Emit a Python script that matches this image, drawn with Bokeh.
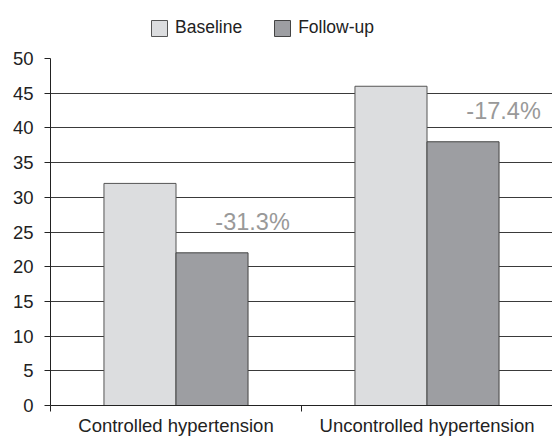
from bokeh.plotting import figure
from bokeh.layouts import column
from bokeh.models import (ColumnDataSource, Range1d, LinearAxis, FixedTicker, Legend, LegendItem)
from bokeh.core.properties import value
from bokeh.embed import file_html
from bokeh.resources import INLINE

categories = ["Controlled hypertension", "Uncontrolled hypertension"]
series_names = ["Baseline", "Follow-up"]
baseline = [32, 46]
follow_up = [22, 38]
change_labels = ["-31.3%", "-17.4%"]
y_ticks = [0, 5, 10, 15, 20, 25, 30, 35, 40, 45, 50]

FONT = "Liberation Sans"
FILLS = ["#dcdddf", "#9d9ea2"]
LINES = ["#555555", "#444444"]
n = len(categories)
centers = [i + 0.5 for i in range(n)]
bw = 0.287

src = ColumnDataSource(dict(
    xb=[c - bw / 2 for c in centers], xf=[c + bw / 2 for c in centers], xl=[c + 0.305 for c in centers],
    baseline=baseline, follow=follow_up,
    lab=change_labels, laby=[f + 4.5 for f in follow_up],
))

# ---- legend strip (separate figure above the chart) ----
LEG_H = 45
lg = figure(width=552, height=LEG_H, x_range=Range1d(0, 1), y_range=Range1d(0, 1),
            output_backend="svg", toolbar_location=None, x_axis_location=None, y_axis_location=None,
            min_border_left=0, min_border_right=0, min_border_top=0, min_border_bottom=0)
lg.outline_line_color = None
lg.grid.grid_line_color = None
# swatch renderers: their single point lies outside the visible range, only the legend shows them
dummies = [lg.vbar(x=[5], top=[5], width=0.1, fill_color=FILLS[i], line_color=LINES[i], line_width=1)
           for i in range(2)]
legend = Legend(items=[LegendItem(label=series_names[i], renderers=[dummies[i]]) for i in range(2)],
                orientation="horizontal", location=(99, 7),
                glyph_width=20, glyph_height=20, label_standoff=6, spacing=30,
                padding=0, margin=0, border_line_color=None, background_fill_alpha=0,
                label_text_font=FONT, label_text_font_size="17.5px", label_text_color="#222222",
                label_height=20)
lg.add_layout(legend, "center")

# ---- main chart ----
p = figure(width=552, height=438 - LEG_H, x_range=Range1d(0, n), y_range=Range1d(0, 50),
           output_backend="svg", toolbar_location=None, x_axis_location=None,
           min_border_left=50, min_border_right=0, min_border_top=13, min_border_bottom=33)
p.outline_line_color = None
p.background_fill_color = "white"
p.xgrid.grid_line_color = None
p.ygrid.grid_line_color = "#3a3a3a"
p.ygrid.grid_line_width = 1
p.ygrid.ticker = FixedTicker(ticks=y_ticks)

ya = p.yaxis[0]
ya.ticker = FixedTicker(ticks=y_ticks)
ya.minor_tick_line_color = None
ya.major_tick_in = 0
ya.major_tick_out = 6
ya.axis_line_color = "#222222"
ya.major_tick_line_color = "#222222"
ya.major_label_text_font = FONT
ya.major_label_text_font_size = "18.5px"
ya.major_label_text_color = "#222222"
ya.major_label_standoff = 11

# tick-only axis marking category boundaries
tick_axis = LinearAxis(ticker=FixedTicker(ticks=list(range(n + 1))),
                       major_label_text_font_size="0px", major_label_standoff=0,
                       minor_tick_line_color=None, major_tick_in=0, major_tick_out=6,
                       axis_line_color="#222222", major_tick_line_color="#222222")
p.add_layout(tick_axis, "below")

cat_axis = LinearAxis(ticker=FixedTicker(ticks=centers),
                      major_label_overrides={c: name for c, name in zip(centers, categories)},
                      axis_line_color=None, major_tick_line_color=None, minor_tick_line_color=None,
                      major_tick_in=0, major_tick_out=0,
                      major_label_text_font=FONT, major_label_text_font_size="18.5px",
                      major_label_text_color="#222222", major_label_standoff=3)
p.add_layout(cat_axis, "below")

p.vbar(x="xb", top="baseline", width=bw, source=src,
       fill_color=FILLS[0], line_color=LINES[0], line_width=1)
p.vbar(x="xf", top="follow", width=bw, source=src,
       fill_color=FILLS[1], line_color=LINES[1], line_width=1)

p.text(x="xl", y="laby", text="lab", source=src,
       text_font=value(FONT), text_font_size="23.5px", text_color="#999999",
       text_align="center", text_baseline="alphabetic")

open("out.html", "w").write(file_html(column(lg, p, spacing=0), INLINE))
